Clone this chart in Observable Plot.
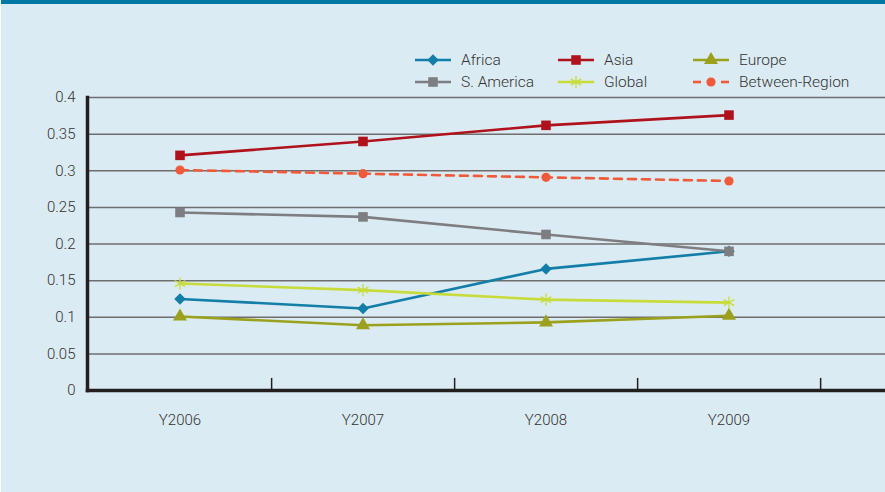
<!DOCTYPE html>
<html>
<head>
<meta charset="utf-8">
<script src="https://cdn.jsdelivr.net/npm/d3@7"></script>
<script src="https://cdn.jsdelivr.net/npm/@observablehq/plot@0.6"></script>
<style>
  html, body { margin: 0; padding: 0; background: #ffffff; }
  #wrap { position: relative; width: 884px; height: 492px; margin-left: 1px; background: #dbebf3; overflow: hidden; font-family: Roboto, "Noto Sans", sans-serif; }
  #topbar { position: absolute; left: 0; top: 0; width: 100%; height: 4px; background: #0078a4; }
  #chart { position: absolute; left: -1px; top: 0; }
  #legend { position: absolute; left: -1px; top: 0; }
</style>
</head>
<body>
<div id="wrap">
  <div id="chart"></div>
  <svg id="legend" width="885" height="100"></svg>
  <div id="topbar"></div>
</div>
<script>
const years = ["Y2006", "Y2007", "Y2008", "Y2009"];
const africa = [0.125, 0.112, 0.166, 0.190];
const asia = [0.321, 0.340, 0.362, 0.376];
const europe = [0.101, 0.089, 0.093, 0.102];
const sAmerica = [0.243, 0.237, 0.213, 0.190];
const global = [0.146, 0.137, 0.124, 0.120];
const betweenRegion = [0.301, 0.296, 0.291, 0.286];
const yTicks = [0, 0.05, 0.1, 0.15, 0.2, 0.25, 0.3, 0.35, 0.4];
const seriesNames = ["Africa", "Asia", "Europe", "S. America", "Global", "Between-Region"];

const seriesValues = [africa, asia, europe, sAmerica, global, betweenRegion];
const styles = {
  "Africa": {color: "#137ea8", symbol: "diamond2", r: 5.2, dash: null, fillSym: true},
  "Asia": {color: "#b0121b", symbol: "square", r: 5.4, dash: null, fillSym: true},
  "Europe": {color: "#9ba11c", symbol: "triangle", r: 5.2, dash: null, fillSym: true},
  "S. America": {color: "#7e7e82", symbol: "square", r: 5.4, dash: null, fillSym: true},
  "Global": {color: "#c7dc38", symbol: "asterisk", r: 5.8, dash: null, fillSym: false},
  "Between-Region": {color: "#f05a3a", symbol: "circle", r: 4.6, dash: "8,6", fillSym: true}
};

const rows = [];
seriesNames.forEach((name, i) => {
  years.forEach((yr, j) => rows.push({series: name, year: yr, value: seriesValues[i][j]}));
});

const xRange = [87, 820];
const bw = (xRange[1] - xRange[0]) / years.length;

const marks = [
  Plot.ruleY(yTicks.filter(d => d > 0), {stroke: "#6e6e6e", strokeWidth: 1.5})
];
seriesNames.forEach(name => {
  const s = styles[name];
  const data = rows.filter(d => d.series === name);
  marks.push(Plot.line(data, {x: "year", y: "value", stroke: s.color, strokeWidth: 2.6, strokeDasharray: s.dash}));
});
seriesNames.forEach(name => {
  const s = styles[name];
  const data = rows.filter(d => d.series === name);
  if (s.fillSym) {
    marks.push(Plot.dot(data, {x: "year", y: "value", symbol: () => s.symbol, r: s.r, fill: s.color, stroke: "none"}));
  } else {
    marks.push(Plot.dot(data, {x: "year", y: "value", symbol: () => s.symbol, r: s.r, fill: "none", stroke: s.color, strokeWidth: 1.3}));
  }
});
marks.push(
  Plot.ruleX(years, {x: d => d, dx: bw / 2, y1: 0, y2: 0.0165, stroke: "#231f20", strokeWidth: 1.5}),
  Plot.frame({anchor: "left", stroke: "#231f20", strokeWidth: 3.5}),
  Plot.frame({anchor: "bottom", stroke: "#231f20", strokeWidth: 3.5}),
  Plot.axisX({tickSize: 0, tickPadding: 24, fontWeight: 300}),
  Plot.axisY({ticks: yTicks, tickSize: 0, tickPadding: 12, tickFormat: d => String(+d.toFixed(2)), fontWeight: 300})
);

const chart = Plot.plot({
  width: 885,
  height: 492,
  marginTop: 97,
  marginBottom: 102,
  marginLeft: 87,
  marginRight: 0,
  style: {background: "transparent", fontFamily: "Roboto, 'Noto Sans', sans-serif", fontSize: "15px", color: "#333333", overflow: "visible"},
  x: {type: "band", domain: years, range: xRange, padding: 0, label: null},
  y: {domain: [0, 0.4], label: null},
  marks
});
document.getElementById("chart").appendChild(chart);

// Legend
const legend = d3.select("#legend");
const symMap = {
  "diamond2": d3.symbolDiamond2, "square": d3.symbolSquare, "triangle": d3.symbolTriangle,
  "asterisk": d3.symbolAsterisk, "circle": d3.symbolCircle
};
const legendPos = [
  {x: 415, y: 60}, {x: 558, y: 60}, {x: 693, y: 60},
  {x: 415, y: 82}, {x: 558, y: 82}, {x: 693, y: 82}
];
const legendOrder = ["Africa", "Asia", "Europe", "S. America", "Global", "Between-Region"];
legendOrder.forEach((name, i) => {
  const s = styles[name];
  const p = legendPos[i];
  const g = legend.append("g").attr("transform", `translate(${p.x},${p.y})`);
  if (s.dash) {
    g.append("line").attr("x1", 0).attr("x2", 8).attr("y1", 0).attr("y2", 0).attr("stroke", s.color).attr("stroke-width", 2.6);
    g.append("line").attr("x1", 28).attr("x2", 36).attr("y1", 0).attr("y2", 0).attr("stroke", s.color).attr("stroke-width", 2.6);
  } else {
    g.append("line").attr("x1", 0).attr("x2", 36).attr("y1", 0).attr("y2", 0).attr("stroke", s.color).attr("stroke-width", 2.6);
  }
  const size = Math.PI * s.r * s.r;
  const path = g.append("path").attr("transform", "translate(18,0)").attr("d", d3.symbol(symMap[s.symbol], size)());
  if (s.fillSym) path.attr("fill", s.color);
  else path.attr("fill", "none").attr("stroke", s.color).attr("stroke-width", 1.3);
  g.append("text").attr("x", 46).attr("y", 0).attr("dy", "0.35em")
    .attr("font-family", "Roboto, 'Noto Sans', sans-serif").attr("font-size", "15.5px").attr("font-weight", 300).attr("fill", "#333")
    .text(name);
});
</script>
</body>
</html>
